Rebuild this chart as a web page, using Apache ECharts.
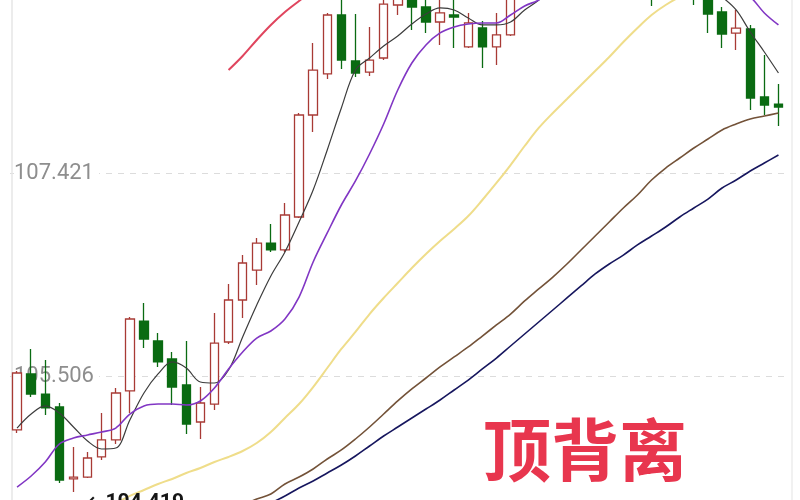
<!DOCTYPE html>
<html>
<head>
<meta charset="utf-8">
<script src="https://cdn.jsdelivr.net/npm/echarts@6/dist/echarts.min.js"></script>
<style>
html,body{margin:0;padding:0;background:#fff;}
#chart{width:800px;height:500px;}
</style>
</head>
<body>
<div id="chart"></div>
<script>
const categories = ['1','2','3','4','5','6','7','8','9','10','11','12','13','14','15','16','17','18','19','20',
  '21','22','23','24','25','26','27','28','29','30','31','32','33','34','35','36','37','38','39','40',
  '41','42','43','44','45','46','47','48','49','50','51','52','53','54','55'];

const openVals = [
105.003,105.530,105.341,105.219,104.542,104.560,104.749,104.909,105.370,106.028,
105.840,105.671,105.426,105.078,105.247,105.831,106.226,106.508,106.762,106.697,
107.007,107.967,108.353,108.908,108.475,108.371,108.503,109.002,109.077,108.983,
108.842,108.908,108.607,108.786,108.607,108.720,109.14,109.35,109.55,109.48,
109.75,109.92,109.85,110.02,109.90,109.70,109.40,109.50,109.30,109.190,
108.936,108.738,108.776,108.136,108.070];
const closeVals = [
105.539,105.341,105.210,104.532,104.560,104.739,104.909,105.351,106.047,105.859,
105.643,105.407,105.059,105.257,105.821,106.226,106.574,106.762,106.697,107.026,
107.967,108.390,108.908,108.484,108.362,108.484,109.011,109.143,108.983,108.842,
108.927,108.889,108.833,108.607,108.720,109.143,109.35,109.55,109.48,109.75,
109.92,109.85,110.02,109.90,109.70,109.40,109.50,109.30,109.20,108.917,
108.729,108.785,108.127,108.061,108.042];
const lowVals = [
104.974,105.313,105.144,104.504,104.419,104.551,104.720,104.871,105.163,105.774,
105.595,105.238,104.965,104.918,105.191,105.812,106.057,106.367,106.678,106.678,
106.998,107.807,108.306,108.400,108.324,108.334,108.484,108.908,108.767,108.738,
108.626,108.597,108.597,108.409,108.437,108.710,109.08,109.30,109.40,109.42,
109.68,109.78,109.80,109.85,109.55,108.993,109.30,109.20,109.002,108.738,
108.597,108.579,108.014,107.967,107.863];
const highVals = [
105.558,105.765,105.661,105.257,104.843,104.796,105.163,105.398,106.066,106.198,
105.915,105.737,105.840,105.407,106.104,106.377,106.649,106.809,106.941,107.139,
107.986,108.644,108.927,109.096,108.917,108.795,109.077,109.190,109.143,109.049,
109.068,109.068,108.927,108.851,108.927,109.237,109.42,109.62,109.70,109.82,
110.00,110.05,110.10,110.12,109.95,109.75,109.58,109.56,109.40,109.284,
108.983,108.955,108.814,108.531,108.259];

const maBlack = [
105.021,105.153,105.229,105.163,105.031,104.899,104.824,104.833,105.097,105.351,
105.530,105.643,105.586,105.454,105.445,105.567,105.878,106.179,106.452,106.678,
106.960,107.261,107.638,108.033,108.390,108.503,108.616,108.710,108.823,108.917,
108.974,108.955,108.880,108.814,108.814,108.842,108.955,109.049,109.190,109.331,
109.472,109.614,109.708,109.755,109.708,109.614,109.520,109.407,109.284,109.162,
109.077,108.955,108.748,108.560,108.362];
const maPurple = [
104.466,104.570,104.702,104.871,104.927,104.956,104.984,105.021,105.153,105.229,
105.247,105.247,105.238,105.276,105.398,105.577,105.737,105.868,105.934,106.047,
106.254,106.584,106.857,107.120,107.346,107.600,107.882,108.202,108.456,108.626,
108.739,108.795,108.823,108.833,108.833,108.908,108.993,109.049,109.143,109.237,
109.331,109.407,109.472,109.520,109.538,109.538,109.520,109.472,109.407,109.331,
109.237,109.143,109.077,108.927,108.814];
const maRed = [
'-','-','-','-','-','-','-','-','-','-',
'-','-','-','-','-',108.390,108.522,108.673,108.814,108.936,
109.040,109.143,109.256,109.369,109.472,'-','-','-','-','-',
'-','-','-','-','-','-','-','-','-','-',
'-','-','-','-','-','-','-','-','-','-',
'-','-','-','-','-'];
const maYellow = [
103.921,103.968,104.024,104.081,104.137,104.203,104.259,104.316,104.382,104.438,
104.495,104.542,104.598,104.645,104.702,104.749,104.805,104.880,104.984,105.116,
105.247,105.407,105.586,105.765,105.925,106.094,106.245,106.386,106.527,106.659,
106.781,106.894,107.016,107.167,107.327,107.496,107.675,107.845,107.986,108.117,
108.249,108.381,108.513,108.654,108.786,108.908,109.002,109.077,109.124,109.162,
109.190,109.209,109.218,109.228,109.237];
const maBrown = [
'-','-','-','-','-','-','-','-','-','-',
'-','-',104.062,104.118,104.175,104.241,104.297,104.353,104.401,104.495,
104.560,104.636,104.730,104.815,104.918,105.031,105.153,105.276,105.389,105.492,
105.596,105.690,105.784,105.887,105.991,106.094,106.217,106.330,106.442,106.565,
106.697,106.828,106.960,107.092,107.214,107.355,107.468,107.562,107.656,107.741,
107.826,107.882,107.929,107.957,107.986];
const maNavy = [
'-','-','-','-','-','-','-','-','-','-',
'-','-','-','-','-','-',104.203,104.259,104.316,104.382,
104.457,104.523,104.598,104.673,104.758,104.852,104.946,105.031,105.116,105.200,
105.285,105.379,105.473,105.577,105.680,105.793,105.906,106.019,106.132,106.245,
106.358,106.471,106.565,106.649,106.744,106.828,106.913,107.007,107.092,107.176,
107.280,107.355,107.440,107.515,107.590];

const yTicks = [105.506, 107.421];
const yMin = 104.344;
const yMax = 109.049;
const noteText = '顶背离';

const candleData = openVals.map((o, i) => [o, closeVals[i], lowVals[i], highVals[i]]);

function maSeries(data, color, width) {
  return {
    type: 'line', data: data, symbol: 'none', smooth: 0.35, silent: true,
    lineStyle: { color: color, width: width }, z: 3
  };
}

const chart = echarts.init(document.getElementById('chart'), null, { renderer: 'canvas' });
chart.setOption({
  animation: false,
  backgroundColor: '#ffffff',
  grid: { left: 10, right: 14.5, top: 0, bottom: 0, containLabel: false },
  xAxis: {
    type: 'category', data: categories, boundaryGap: true,
    axisLine: { show: false }, axisTick: { show: false }, axisLabel: { show: false },
    splitLine: { show: false }
  },
  yAxis: [{
    type: 'value', min: yMin, max: yMax, position: 'left', offset: -2,
    axisLine: { show: true, lineStyle: { color: '#e6e6e6', width: 1.5 } },
    axisTick: { show: false, customValues: yTicks },
    axisLabel: {
      inside: true, customValues: yTicks, margin: 2,
      formatter: v => Number(v).toFixed(3),
      color: '#8e8e8e', fontSize: 22, fontFamily: 'Roboto',
      backgroundColor: '#ffffff', padding: [1, 5, 1, 0]
    },
    splitLine: { show: true, lineStyle: { type: [6, 6], color: '#dcdcdc', width: 1 } }
  }, {
    type: 'value', min: yMin, max: yMax, position: 'right', offset: 6,
    axisLine: { show: true, lineStyle: { color: '#ececec', width: 1.5 } },
    axisTick: { show: false }, axisLabel: { show: false }, splitLine: { show: false }
  }],
  series: [
    {
      type: 'candlestick', data: candleData, barWidth: 9, z: 2,
      itemStyle: {
        color: '#ffffff', color0: '#0a6b12',
        borderColor: '#a83a35', borderColor0: '#0a6b12', borderWidth: 1.3
      },
      markPoint: {
        symbol: 'circle', symbolSize: 1,
        itemStyle: { color: 'rgba(0,0,0,0)' },
        data: [{ type: 'min', valueDim: 'lowest' }],
        label: {
          show: true, position: 'right', distance: 14, offset: [0, 11],
          formatter: p => '←' + p.value,
          color: '#151515', fontSize: 21, fontWeight: 'bold',
          fontFamily: 'Roboto, "DejaVu Sans"'
        }
      }
    },
    maSeries(maBlack, '#3c3c3c', 1.2),
    maSeries(maPurple, '#8136c4', 1.6),
    maSeries(maRed, '#e0455e', 2),
    maSeries(maYellow, '#efdd8a', 2),
    maSeries(maBrown, '#735238', 1.6),
    maSeries(maNavy, '#16165e', 1.6)
  ],
  graphic: [{
    type: 'text', x: 483, y: 450, z: 10,
    style: {
      text: noteText, fill: '#e8364e',
      fontSize: 68, fontWeight: 'bold', fontFamily: '"Noto Sans CJK SC"',
      align: 'left', verticalAlign: 'middle'
    }
  }]
});
</script>
</body>
</html>
